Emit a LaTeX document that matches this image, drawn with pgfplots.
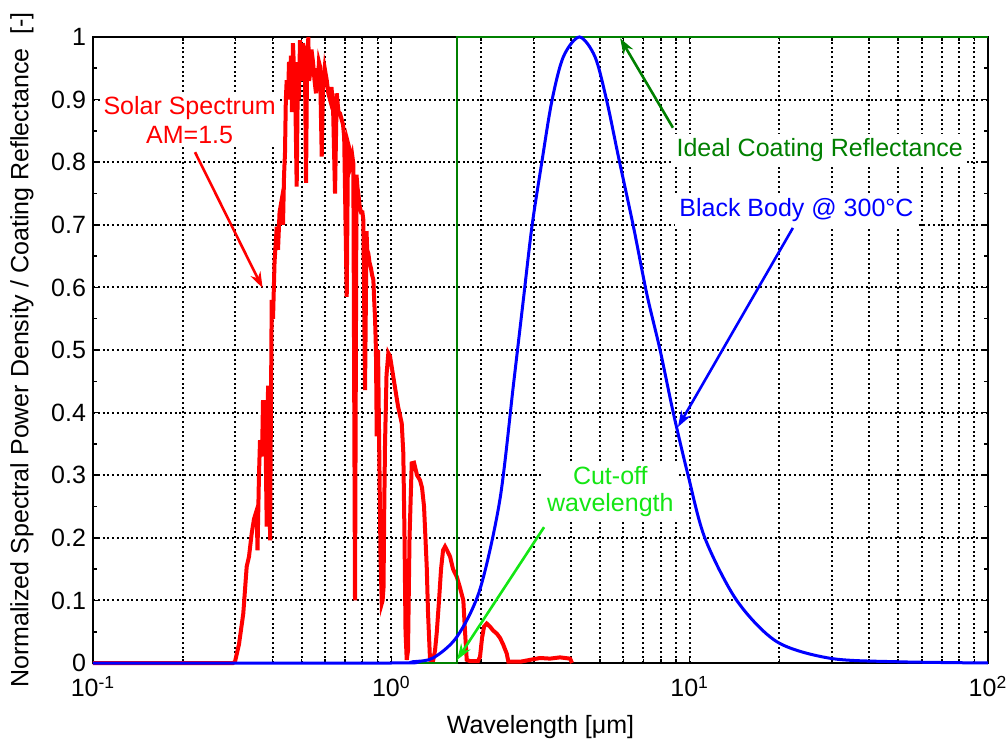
\documentclass[border=0pt]{standalone}
\usepackage{fontspec}
\setmainfont{Liberation Sans}
\usepackage{pgfplots}
\pgfplotsset{compat=1.18}
\usetikzlibrary{arrows.meta}

\definecolor{solarred}{RGB}{255,0,0}
\definecolor{bbblue}{RGB}{0,0,255}
\definecolor{coatgreen}{RGB}{0,128,0}
\definecolor{cutgreen}{RGB}{20,230,20}

\begin{document}
\begin{tikzpicture}[font=\fontsize{12.5}{13.2}\selectfont]
\useasboundingbox (-46.5pt,-38.5pt) rectangle (457.5pt,331.5pt);
\begin{axis}[
  at={(0,0)}, anchor=south west,
  scale only axis, width=447.5pt, height=313pt,
  xmode=log, xmin=0.1, xmax=100, ymin=0, ymax=1,
  xtick={0.1,1,10,100},
  xticklabels={10\textsuperscript{-1},10\textsuperscript{0},10\textsuperscript{1},10\textsuperscript{2}},
  minor xtick={0.2,0.3,0.4,0.5,0.6,0.7,0.8,0.9,2,3,4,5,6,7,8,9,20,30,40,50,60,70,80,90},
  ytick={0,0.1,0.2,0.3,0.4,0.5,0.6,0.7,0.8,0.9,1},
  minor ytick={0.05,0.15,0.25,0.35,0.45,0.55,0.65,0.75,0.85,0.95},
  xmajorgrids=true, xminorgrids=true, ymajorgrids=true,
  major grid style={black, line width=1pt, dash pattern=on 1pt off 1.4pt},
  minor grid style={black, line width=1pt, dash pattern=on 1pt off 1.4pt},
  tick pos=both, tick align=inside,
  major tick length=3.5pt, minor tick length=2pt,
  every tick/.style={black, line width=0.8pt},
  axis line style={line width=1.3pt},
  x tick label style={yshift=-3pt},
  xlabel={Wavelength [μm]},
  xlabel style={yshift=-2pt},
  ylabel={Normalized Spectral Power Density / Coating Reflectance\ \ [-]},
  ylabel style={yshift=2pt},
  clip=false,
  /pgf/number format/assume math mode=true,
]
% solar spectrum AM1.5 (normalized)
\addplot[solarred, line width=2pt] coordinates {
(0.1,0) (0.2946,0) (0.2992,0.002) (0.3086,0.03) (0.3190,0.079) (0.3275,0.154)
(0.3334,0.17) (0.3404,0.207) (0.3465,0.23) (0.3538,0.244) (0.3560,0.18)
(0.3601,0.30) (0.3630,0.356) (0.3686,0.33) (0.3715,0.42) (0.3744,0.33)
(0.3773,0.42) (0.3823,0.218) (0.3862,0.44) (0.3901,0.44) (0.3922,0.196)
(0.3973,0.58) (0.4013,0.55) (0.4060,0.64) (0.4129,0.697) (0.4171,0.66)
(0.4220,0.72) (0.4291,0.74) (0.4334,0.70) (0.4370,0.78) (0.4401,0.814)
(0.4430,0.90) (0.4459,0.931) (0.4504,0.90) (0.4540,0.96) (0.4574,0.937)
(0.4610,0.97) (0.4645,0.88) (0.4680,0.99) (0.4718,0.95) (0.4760,0.92)
(0.4817,0.761) (0.4866,0.96) (0.4900,0.90) (0.4942,0.995) (0.4980,0.94)
(0.5019,0.93) (0.5060,0.99) (0.5098,0.98) (0.5140,0.93) (0.5177,0.767)
(0.5217,0.95) (0.5250,0.98) (0.5270,1.0) (0.5300,0.93) (0.5339,0.94)
(0.5400,0.98) (0.5464,0.96) (0.5530,0.93) (0.5592,0.91) (0.5630,0.95)
(0.5679,0.93) (0.5720,0.96) (0.5768,0.953) (0.5844,0.809) (0.5903,0.92)
(0.5980,0.95) (0.6074,0.931) (0.6150,0.91) (0.6231,0.9) (0.6300,0.92)
(0.6377,0.89) (0.6476,0.75) (0.6562,0.91) (0.6650,0.88) (0.6731,0.878)
(0.6800,0.87) (0.6889,0.86) (0.6950,0.84) (0.7088,0.585) (0.7160,0.83)
(0.7250,0.82) (0.7327,0.80) (0.7400,0.81) (0.7459,0.798) (0.7557,0.1)
(0.7645,0.78) (0.7700,0.76) (0.7752,0.75) (0.7830,0.73) (0.7916,0.72)
(0.8000,0.72) (0.8058,0.708) (0.8164,0.436) (0.8259,0.69) (0.8300,0.66)
(0.8375,0.654) (0.8450,0.64) (0.8551,0.63) (0.8620,0.62) (0.8705,0.612)
(0.8760,0.58) (0.8820,0.55) (0.8880,0.50) (0.8936,0.362) (0.8980,0.47)
(0.9026,0.5) (0.9131,0.3) (0.9200,0.17) (0.9287,0.095) (0.9350,0.10)
(0.9415,0.12) (0.9470,0.25) (0.9525,0.35) (0.9636,0.46) (0.9771,0.495)
(0.9900,0.49) (1.0054,0.47) (1.0290,0.44) (1.0531,0.41) (1.0836,0.383)
(1.0970,0.335) (1.1072,0.2) (1.1158,0.05) (1.1262,0.005) (1.1375,0.02)
(1.1508,0.2) (1.1705,0.319) (1.1915,0.32) (1.2194,0.30) (1.2479,0.292)
(1.2674,0.28) (1.2871,0.25) (1.3142,0.154) (1.3275,0.08) (1.3481,0.005)
(1.3797,0.003) (1.4012,0.02) (1.4197,0.048) (1.4451,0.10) (1.4677,0.15)
(1.4906,0.18) (1.5138,0.186) (1.5374,0.18) (1.5734,0.17) (1.6102,0.15)
(1.6568,0.138) (1.6996,0.12) (1.7434,0.1) (1.7664,0.05) (1.7897,0.005)
(1.8359,0.003) (1.9527,0.003) (1.9831,0.01) (2.0140,0.04) (2.0455,0.058)
(2.0886,0.063) (2.1424,0.058) (2.1926,0.052) (2.2561,0.047) (2.3142,0.04)
(2.3685,0.03) (2.4372,0.015) (2.4674,0.002) (2.7008,0.002) (2.9174,0.005)
(3.1511,0.008) (3.4041,0.007) (3.6782,0.009) (3.9726,0.007) (4.0345,0)
};
% ideal coating reflectance (step at cut-off)
\addplot[coatgreen, line width=1.4pt] coordinates {
(0.1,0) (1.66,0) (1.66,1) (100,1)
};
% black body at 300 C (normalized)
\addplot[bbblue, line width=1.5pt, smooth, tension=0.5] coordinates {
(0.1,0) (1.0,0) (1.18,0.002) (1.38,0.008) (1.66,0.042) (1.98,0.117)
(2.31,0.26) (2.57,0.447) (2.77,0.58) (2.96,0.697) (3.19,0.798) (3.45,0.897)
(3.77,0.968) (4.27,1.0) (4.82,0.968) (5.28,0.897) (5.77,0.809) (6.48,0.697)
(7.18,0.59) (7.96,0.5) (8.82,0.399) (9.9,0.298) (11.26,0.199) (14.38,0.1)
(19.6,0.034) (29.6,0.0075) (49.5,0.002) (100,0)
};

% annotations
\draw[solarred, line width=1.3pt, -{Stealth[length=8pt,width=5.5pt]}]
  (rel axis cs:0.114,0.816) -- (rel axis cs:0.1895,0.599);
\node[fill=white, text=solarred, align=center, inner sep=1.5pt,
  font=\fontsize{12.5}{14.5}\selectfont]
  at (rel axis cs:0.108,0.867) {Solar Spectrum\\AM=1.5};

\draw[coatgreen, line width=1.3pt, -{Stealth[length=8pt,width=5.5pt]}]
  (rel axis cs:0.648,0.855) -- (rel axis cs:0.589,0.998);
\node[fill=white, text=coatgreen, inner sep=2pt]
  at (rel axis cs:0.812,0.8195) {Ideal Coating Reflectance};

\draw[bbblue, line width=1.3pt, -{Stealth[length=8pt,width=5.5pt]}]
  (rel axis cs:0.782,0.695) -- (rel axis cs:0.6536,0.377);
\node[fill=white, text=bbblue, inner sep=2pt]
  at (rel axis cs:0.786,0.7236) {Black Body @ 300°C};

\draw[cutgreen, line width=1.3pt, -{Stealth[length=8pt,width=5.5pt]}]
  (rel axis cs:0.504,0.217) -- (rel axis cs:0.4067,0.0048);
\node[fill=white, text=cutgreen, align=center, inner sep=1.5pt]
  at (rel axis cs:0.578,0.274) {Cut-off\\wavelength};
\end{axis}
\end{tikzpicture}
\end{document}
